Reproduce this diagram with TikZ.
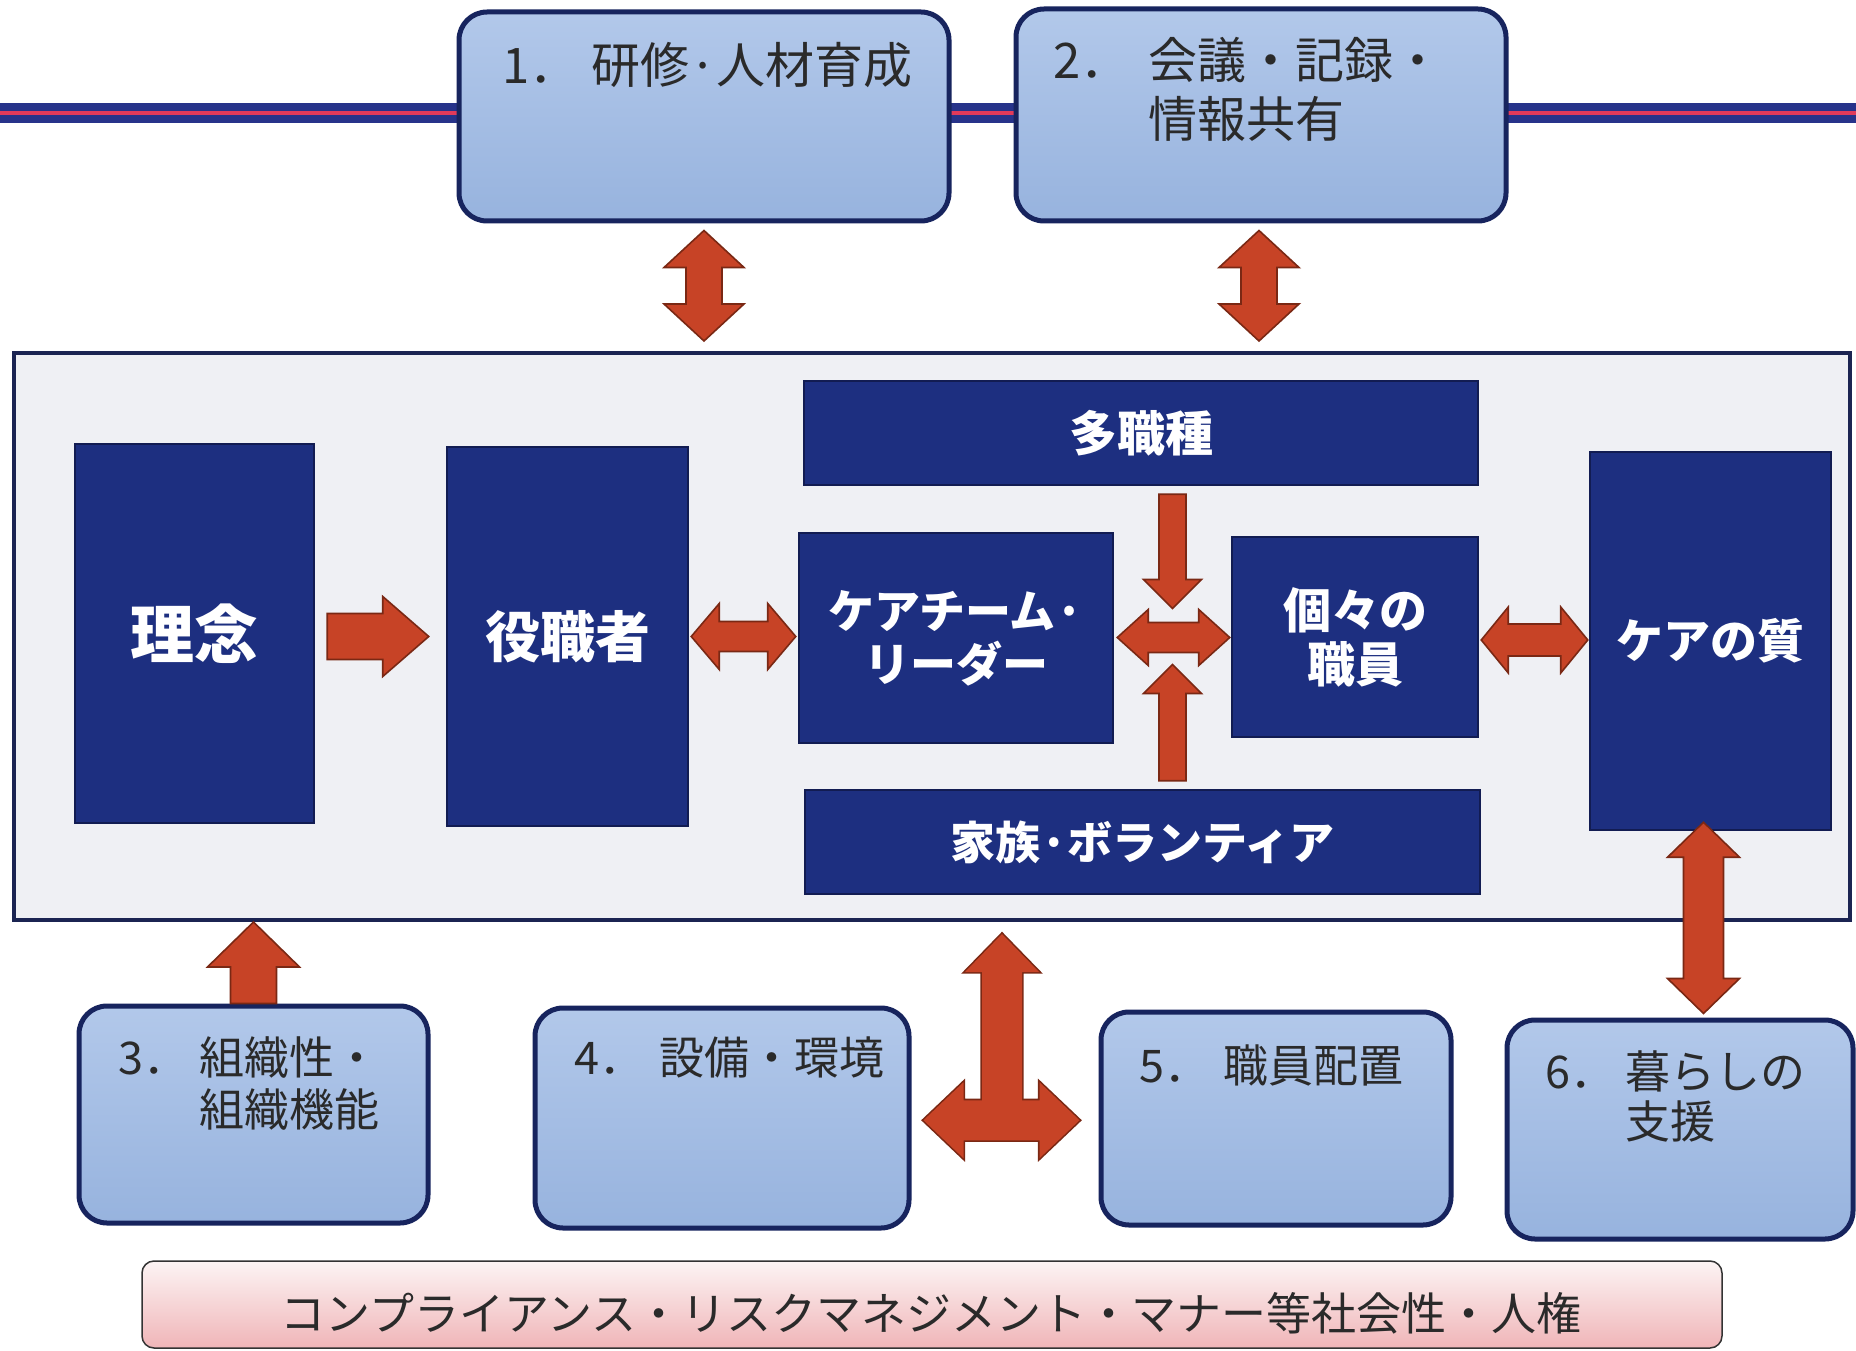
\documentclass[tikz,border=0pt]{standalone}
\usepackage{fontspec}
\setmainfont{Noto Sans CJK JP}
\usetikzlibrary{calc}
\definecolor{navy}{HTML}{1D2F80}
\definecolor{navyedge}{HTML}{121C52}
\definecolor{lbluetop}{HTML}{B2C8EA}
\definecolor{lbluebot}{HTML}{97B3DE}
\definecolor{boxedge}{HTML}{17245E}
\definecolor{arrowred}{HTML}{C74326}
\definecolor{arrowedge}{HTML}{7A2814}
\definecolor{framefill}{HTML}{EFF0F4}
\definecolor{frameedge}{HTML}{1B2452}
\definecolor{lineblue}{HTML}{27338A}
\definecolor{linered}{HTML}{E23A5A}
\definecolor{pinktop}{HTML}{FCF4F4}
\definecolor{pinkbot}{HTML}{F0B5B8}
\definecolor{txtgray}{HTML}{2A2A2A}
\newcommand\setfs[2]{\fontsize{#1pt}{#2pt}\selectfont}
\newcommand\lblnum[2]{\makebox[#1pt][l]{#2．}}
% single block arrow: [style]{tail}{tip}{half shaft}{half head}{head length}
\newcommand\fatsingle[6][blockarrow]{%
  \path[#1] let \p1=#2, \p2=#3, \n1={veclen(\x2-\x1,\y2-\y1)},
    \n2={(\x2-\x1)/\n1}, \n3={(\y2-\y1)/\n1} in
    ({\x1-#4*\n3},{\y1+#4*\n2})
    -- ({\x2-#6*\n2-#4*\n3},{\y2-#6*\n3+#4*\n2})
    -- ({\x2-#6*\n2-#5*\n3},{\y2-#6*\n3+#5*\n2})
    -- (\x2,\y2)
    -- ({\x2-#6*\n2+#5*\n3},{\y2-#6*\n3-#5*\n2})
    -- ({\x2-#6*\n2+#4*\n3},{\y2-#6*\n3-#4*\n2})
    -- ({\x1+#4*\n3},{\y1-#4*\n2}) -- cycle;}
% double block arrow: [style]{tipA}{tipB}{half shaft}{half head}{head length}
\newcommand\fatdouble[6][blockarrow]{%
  \path[#1] let \p1=#2, \p2=#3, \n1={veclen(\x2-\x1,\y2-\y1)},
    \n2={(\x2-\x1)/\n1}, \n3={(\y2-\y1)/\n1} in
    (\x1,\y1)
    -- ({\x1+#6*\n2-#5*\n3},{\y1+#6*\n3+#5*\n2})
    -- ({\x1+#6*\n2-#4*\n3},{\y1+#6*\n3+#4*\n2})
    -- ({\x2-#6*\n2-#4*\n3},{\y2-#6*\n3+#4*\n2})
    -- ({\x2-#6*\n2-#5*\n3},{\y2-#6*\n3+#5*\n2})
    -- (\x2,\y2)
    -- ({\x2-#6*\n2+#5*\n3},{\y2-#6*\n3-#5*\n2})
    -- ({\x2-#6*\n2+#4*\n3},{\y2-#6*\n3-#4*\n2})
    -- ({\x1+#6*\n2+#4*\n3},{\y1+#6*\n3-#4*\n2})
    -- ({\x1+#6*\n2+#5*\n3},{\y1+#6*\n3-#5*\n2})
    -- cycle;}
\begin{document}
\begin{tikzpicture}[x=1pt,y=-1pt,
  lbox/.style={draw=boxedge, line width=5pt, rounded corners=28pt, top color=lbluetop, bottom color=lbluebot, inner sep=0pt},
  nbox/.style={draw=navyedge, line width=2.5pt, fill=navy, inner sep=0pt, text=white, align=center},
  ltext/.style={inner sep=0pt, text=txtgray, align=left},
  blockarrow/.style={draw=arrowedge, line width=1.6pt, fill=arrowred},
  arrowrim/.style={draw=arrowedge, line width=3.2pt},
  arrowbody/.style={fill=arrowred},
]
\useasboundingbox (0,0) rectangle (1856,1351);
\fill[white] (0,0) rectangle (1856,1351);

% top rule
\coordinate (ruleL) at (0,113);
\coordinate (ruleR) at (1856,113);
\draw[lineblue, line width=20pt] (ruleL) -- (ruleR);
\draw[linered, line width=3.5pt] (ruleL) -- (ruleR);

% top boxes
\node[lbox, minimum width=490pt, minimum height=209pt] (b1) at (704,116.5) {};
\node[lbox, minimum width=490pt, minimum height=212pt] (b2) at (1261,115) {};
\node[ltext, anchor=west, font=\setfs{49}{59}] (t1) at (502,65) {\lblnum{89}{1}研修·人材育成};
\node[ltext, anchor=north west, font=\setfs{49}{59}] (t2) at (1053,37) {\lblnum{95}{2}会議・記録・\\\hspace*{95pt}情報共有};

% main frame
\node[draw=frameedge, line width=4pt, fill=framefill, minimum width=1836pt, minimum height=567pt, inner sep=0pt] (frame) at (932,636.5) {};

% navy boxes
\node[nbox, minimum width=239pt, minimum height=379pt, font=\setfs{64}{70}\bfseries] (rinen) at (194.5,633.5) {理念};
\node[nbox, minimum width=241pt, minimum height=379pt, font=\setfs{55}{60}\bfseries] (yaku) at (567.5,636.5) {役職者};
\node[nbox, minimum width=314pt, minimum height=210pt, font=\setfs{46}{53}\bfseries] (team) at (956,638) {ケアチーム·\\リーダー};
\node[nbox, minimum width=674pt, minimum height=104pt, font=\setfs{48}{52}\bfseries] (tashoku) at (1141,433) {多職種};
\node[nbox, minimum width=675pt, minimum height=104pt, font=\setfs{45}{52}\bfseries] (kazoku) at (1142.5,842) {家族·ボランティア};
\node[nbox, minimum width=246pt, minimum height=200pt, font=\setfs{48}{54}\bfseries] (koko) at (1355,637) {個々の\\職員};
\node[nbox, minimum width=241pt, minimum height=378pt, font=\setfs{47}{52}\bfseries] (quality) at (1710.5,641) {ケアの質};

% bottom boxes
\node[lbox, minimum width=349pt, minimum height=217pt] (b3) at (253.5,1114.5) {};
\node[lbox, minimum width=374pt, minimum height=220pt] (b4) at (722,1118) {};
\node[lbox, minimum width=350pt, minimum height=213pt] (b5) at (1276,1118.5) {};
\node[lbox, minimum width=346pt, minimum height=219pt] (b6) at (1680,1129.5) {};
\node[ltext, anchor=north west, font=\setfs{45}{52}] (t3) at (118,1036) {\lblnum{81}{3}組織性・\\\hspace*{81pt}組織機能};
\node[ltext, anchor=west, font=\setfs{45}{52}] (t4) at (574,1057) {\lblnum{85}{4}設備・環境};
\node[ltext, anchor=west, font=\setfs{45}{52}] (t5) at (1139,1065) {\lblnum{84}{5}職員配置};
\node[ltext, anchor=north west, font=\setfs{45}{50}] (t6) at (1545,1050) {\lblnum{80}{6}暮らしの\\\hspace*{80pt}支援};

% bottom bar
\node[draw=black!80, line width=1.5pt, rounded corners=12pt, top color=pinktop, bottom color=pinkbot, minimum width=1580pt, minimum height=87pt, inner sep=0pt] (bar) at (932,1304.5) {};
\node[inner sep=0pt, text=txtgray, font=\setfs{45}{50}] (bartext) at (931,1313) {コンプライアンス・リスクマネジメント・マナー等社会性・人権};

% arrows
\fatdouble{($(b1.south)+(0,7)$)}{($(b1.south |- frame.north)+(0,-10)$)}{18}{40}{37}
\fatdouble{($(b2.south)+(-2,7)$)}{($(b2.south |- frame.north)+(-2,-10)$)}{18}{40}{37}
\fatsingle{($(rinen.east |- yaku.west)+(12,0)$)}{($(yaku.west)+(-17,0)$)}{23}{40}{46}
\fatdouble{($(yaku.east)+(2,0)$)}{($(yaku.east -| team.west)+(-2,0)$)}{15}{33}{28}
\coordinate (mid) at ($(team.east)!0.5!(koko.west)$);
\fatsingle{($(mid |- tashoku.south)+(0,8)$)}{($(mid)+(0,-29)$)}{13.5}{29}{29}
\fatsingle{($(mid |- kazoku.north)+(0,-8)$)}{($(mid)+(0,27)$)}{13.5}{29}{29}
\fatdouble{($(team.east |- mid)+(3,0)$)}{($(koko.west |- mid)+(-1,0)$)}{15}{28}{31}
\fatdouble{($(koko.east)+(2,3)$)}{($(koko.east -| quality.west)+(-1,3)$)}{16}{33}{27}
\fatdouble{($(quality.south)+(-7,-9)$)}{($(quality.south |- b6.north)+(-7,-4)$)}{20}{36}{35}
\fatsingle{(b3.north)}{(b3.north |- frame.south)}{23}{46}{45}

% T-shaped arrow between boxes 4 and 5
\coordinate (tc) at ($(b4.east)!0.5!(b5.west)+(-3,2)$);
\coordinate (ttop) at ($(tc |- frame.south)+(0,12)$);
\coordinate (tl) at ($(b4.east |- tc)+(12,0)$);
\coordinate (tr) at ($(b5.west |- tc)+(-19,0)$);
\fatsingle[arrowrim]{(tc)}{(ttop)}{20}{37}{38}
\fatdouble[arrowrim]{(tl)}{(tr)}{20}{38}{40}
\fatsingle[arrowbody]{(tc)}{(ttop)}{20}{37}{38}
\fatdouble[arrowbody]{(tl)}{(tr)}{20}{38}{40}
\end{tikzpicture}
\end{document}
